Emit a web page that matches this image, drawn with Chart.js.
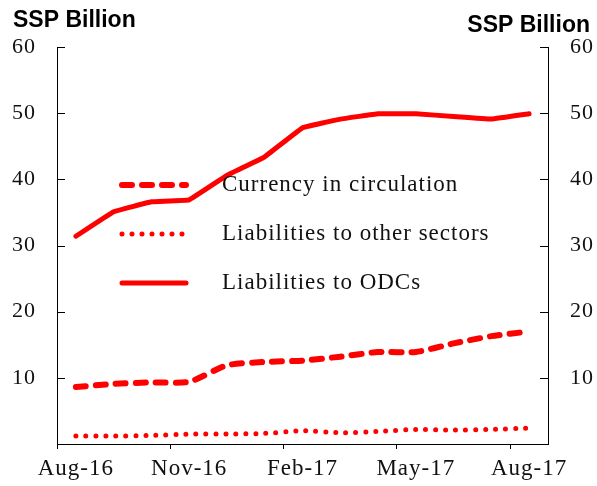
<!DOCTYPE html>
<html>
<head>
<meta charset="utf-8">
<script src="https://cdn.jsdelivr.net/npm/chart.js@4"></script>
<style>
    body { margin: 0; background: #fff; }
    canvas { display: block; }
</style>
</head>
<body>
<canvas id="myChart" width="597" height="486"></canvas>
<script>
// data
var months = ['Aug-16', 'Sep-16', 'Oct-16', 'Nov-16', 'Dec-16', 'Jan-17', 'Feb-17',
    'Mar-17', 'Apr-17', 'May-17', 'Jun-17', 'Jul-17', 'Aug-17'];
var currency = [8.6, 9.1, 9.3, 9.4, 11.9, 12.4, 12.6, 13.2, 13.9, 13.9, 15.2, 16.3, 17.0];
var otherSectors = [1.2, 1.2, 1.3, 1.5, 1.5, 1.6, 2.0, 1.7, 1.9, 2.2, 2.1, 2.2, 2.4];
var odcs = [31.4, 35.1, 36.6, 36.9, 40.6, 43.4, 47.8, 49.1, 49.9, 49.9, 49.5, 49.1, 49.9];
var seriesNames = ['Currency in circulation', 'Liabilities to other sectors', 'Liabilities to ODCs'];
var yMin = 0, yMax = 60, yStep = 10;
var unitLabel = 'SSP Billion';

var red = '#ff0000';
var serif = "'Liberation Serif', 'Times New Roman', serif";

// ---------------------------------------------------------
// titles, inward ticks on the y axes, legend inside the plot
var extras = {
    id: 'extras',
    beforeDraw: function (chart) {
        // the reference text is a little wider than Times
        chart.ctx.letterSpacing = '1px';
    },
    afterDraw: function (chart) {
        var ctx = chart.ctx;
        var area = chart.chartArea;
        ctx.save();
        ctx.letterSpacing = '0px';

        // unit labels
        ctx.fillStyle = '#000';
        ctx.font = "bold 23px 'Liberation Sans', Arial, sans-serif";
        ctx.textBaseline = 'alphabetic';
        ctx.textAlign = 'left';
        ctx.fillText(unitLabel, 13, 27);
        ctx.textAlign = 'right';
        ctx.fillText(unitLabel, 590, 32);

        // inward tick marks
        ctx.strokeStyle = '#000';
        ctx.lineWidth = 1;
        ['y', 'y2'].forEach(function (id) {
            var s = chart.scales[id];
            var dir = id == 'y' ? 1 : -1;
            var x0 = id == 'y' ? area.left : area.right;
            s.ticks.forEach(function (t) {
                if (t.value == yMin) return;
                var py = Math.round(s.getPixelForValue(t.value)) + 0.5;
                ctx.beginPath();
                ctx.moveTo(x0, py);
                ctx.lineTo(x0 + dir * 8, py);
                ctx.stroke();
            });
        });

        // legend
        var lx = area.left + 63;
        var ly = area.top + 138;
        ctx.font = '23px ' + serif;
        ctx.letterSpacing = '1px';
        ctx.textAlign = 'left';
        ctx.textBaseline = 'middle';
        chart.data.datasets.forEach(function (ds, i) {
            var y = ly + i * 49;
            ctx.beginPath();
            ctx.strokeStyle = ds.borderColor;
            ctx.lineWidth = ds.borderWidth;
            ctx.lineCap = ds.borderCapStyle || 'butt';
            ctx.setLineDash(ds.borderDash || []);
            ctx.moveTo(lx + 2, y);
            ctx.lineTo(lx + 66, y);
            ctx.stroke();
            ctx.setLineDash([]);
            ctx.fillStyle = '#111';
            ctx.fillText(ds.label, lx + 102, y);
        });
        ctx.restore();
        ctx.letterSpacing = '0px';
    }
};

// ---------------------------------------------------------
var yAxis = function (pos, width, pad) {
    return {
        type: 'linear',
        position: pos,
        min: yMin,
        max: yMax,
        afterFit: function (scale) { scale.width = width; },
        border: { display: true, color: '#000', width: 1 },
        grid: { drawOnChartArea: false, drawTicks: false },
        ticks: {
            stepSize: yStep,
            padding: pad,
            color: '#111',
            font: { family: serif, size: 22 },
            callback: function (v) { return v == yMin ? '' : v; }
        }
    };
};

var config = {
    type: 'line',
    data: {
        labels: months,
        datasets: [{
            label: seriesNames[0],
            data: currency,
            borderColor: red,
            borderWidth: 6,
            borderDash: [10, 10],
            borderCapStyle: 'round',
            tension: 0.2,
            pointRadius: 0
        }, {
            label: seriesNames[1],
            data: otherSectors,
            borderColor: red,
            borderWidth: 5,
            borderDash: [0, 10],
            borderCapStyle: 'round',
            tension: 0.2,
            pointRadius: 0
        }, {
            label: seriesNames[2],
            data: odcs,
            borderColor: red,
            borderWidth: 5,
            borderCapStyle: 'round',
            borderJoinStyle: 'round',
            tension: 0.05,
            pointRadius: 0
        }]
    },
    options: {
        responsive: false,
        animation: false,
        layout: { padding: { top: 47, left: 0, right: 0, bottom: 0 } },
        plugins: {
            legend: { display: false },
            tooltip: { enabled: false }
        },
        scales: {
            x: {
                type: 'category',
                offset: true,
                afterFit: function (scale) { scale.height = 42; },
                border: { display: true, color: '#000', width: 1 },
                grid: {
                    offset: true,
                    drawOnChartArea: false,
                    tickLength: 5,
                    tickColor: function (c) { return c.index % 3 == 0 ? '#000' : 'rgba(0,0,0,0)'; }
                },
                ticks: {
                    autoSkip: false,
                    maxRotation: 0,
                    padding: 6,
                    color: '#111',
                    font: { family: serif, size: 23 },
                    callback: function (v, i) { return i % 3 == 0 ? months[i] : ''; }
                }
            },
            y: yAxis('left', 57, 21),
            y2: yAxis('right', 49, 22)
        }
    },
    plugins: [extras]
};

var myChart = new Chart(document.getElementById('myChart'), config);
</script>
</body>
</html>
